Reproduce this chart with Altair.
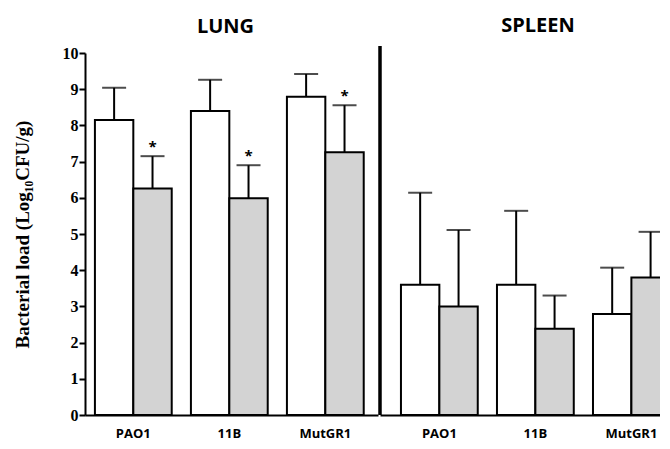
import altair as alt
import pandas as pd

organ = ["LUNG"] * 6 + ["SPLEEN"] * 6
strain = ["PAO1", "PAO1", "11B", "11B", "MutGR1", "MutGR1"] * 2
group = ["control", "treated"] * 6
means = [8.15, 6.26, 8.40, 5.99, 8.79, 7.26, 3.60, 3.00, 3.60, 2.38, 2.79, 3.80]
errs = [0.89, 0.89, 0.86, 0.91, 0.63, 1.30, 2.54, 2.11, 2.04, 0.92, 1.28, 1.26]
sig = ["", "*", "", "*", "", "*", "", "", "", "", "", ""]
strain_order = ["PAO1", "11B", "MutGR1"]

df = pd.DataFrame({"organ": organ, "strain": strain, "group": group,
                   "mean": means, "err": errs, "sig": sig})

SANS = "Open Sans"
SERIF = "Liberation Serif"


def panel(name, width, pad_outer, align, show_y, title_dx):
    base = alt.Chart(df).transform_filter(alt.datum.organ == name).transform_calculate(
        upper="datum.mean + datum.err")
    xenc = alt.X("strain:N", sort=strain_order,
                 scale=alt.Scale(paddingInner=0.2, paddingOuter=pad_outer, align=align),
                 axis=alt.Axis(title=None, labelAngle=0, ticks=False, domainColor="black",
                               domainWidth=2, labelFont=SANS, labelFontWeight="bold",
                               labelFontSize=13, labelColor="black", labelPadding=12))
    xoff = alt.XOffset("group:N", scale=alt.Scale(paddingInner=0, paddingOuter=0))
    if show_y:
        yaxis = alt.Axis(title="Bacterial load (Log₁₀CFU/g)", values=list(range(11)),
                         labelOverlap=False, grid=False, domainColor="black", domainWidth=2,
                         tickColor="black", tickWidth=2, tickSize=6, labelFont=SERIF,
                         labelFontWeight="bold", labelFontSize=16, labelColor="black",
                         labelPadding=1, titleFont=SERIF, titleFontWeight="bold",
                         titleFontSize=19, titleColor="black", titlePadding=30)
    else:
        yaxis = None
    yscale = alt.Scale(domain=[0, 10], nice=False, zero=True)
    bars = base.mark_bar(stroke="black", strokeWidth=2).encode(
        x=xenc, xOffset=xoff,
        y=alt.Y("mean:Q", scale=yscale, axis=yaxis),
        fill=alt.Fill("group:N", scale=alt.Scale(domain=["control", "treated"],
                                                 range=["white", "#d3d3d3"]), legend=None),
    )
    rules = base.mark_rule(color="black", strokeWidth=2).encode(
        x=xenc, xOffset=xoff, y=alt.Y("mean:Q", scale=yscale, axis=yaxis), y2="upper:Q")
    caps = base.mark_tick(color="black", thickness=2, size=24, orient="horizontal").encode(
        x=xenc, xOffset=xoff, y=alt.Y("upper:Q", scale=yscale, axis=yaxis))
    stars = base.mark_text(font=SANS, fontSize=15, fontWeight="bold", baseline="middle",
                           dy=-9, color="black").encode(
        x=xenc, xOffset=xoff, y=alt.Y("upper:Q", scale=yscale, axis=yaxis), text="sig:N")
    layers = [bars, rules, caps, stars]
    if not show_y:
        divider = alt.Chart(pd.DataFrame({"v": [0]})).mark_rule(
            color="black", strokeWidth=3.5).encode(
            x=alt.value(0), y=alt.value(362), y2=alt.value(-7))
        layers.append(divider)
    return alt.layer(*layers).properties(
        width=width, height=362,
        title=alt.Title(name, font=SANS, fontSize=20, fontWeight="bold", color="black",
                        offset=8, dx=title_dx))


lung = panel("LUNG", 293, 0.126, 0.41, True, -6)
spleen = panel("SPLEEN", 294, 0.131, 0.833, False, 11)

chart = alt.hconcat(lung, spleen, spacing=0).configure_view(stroke=None).properties(
    padding={"left": 5, "top": 8, "right": -14, "bottom": 0})

chart.save("out.html", embed_options={"renderer": "svg", "actions": False})
